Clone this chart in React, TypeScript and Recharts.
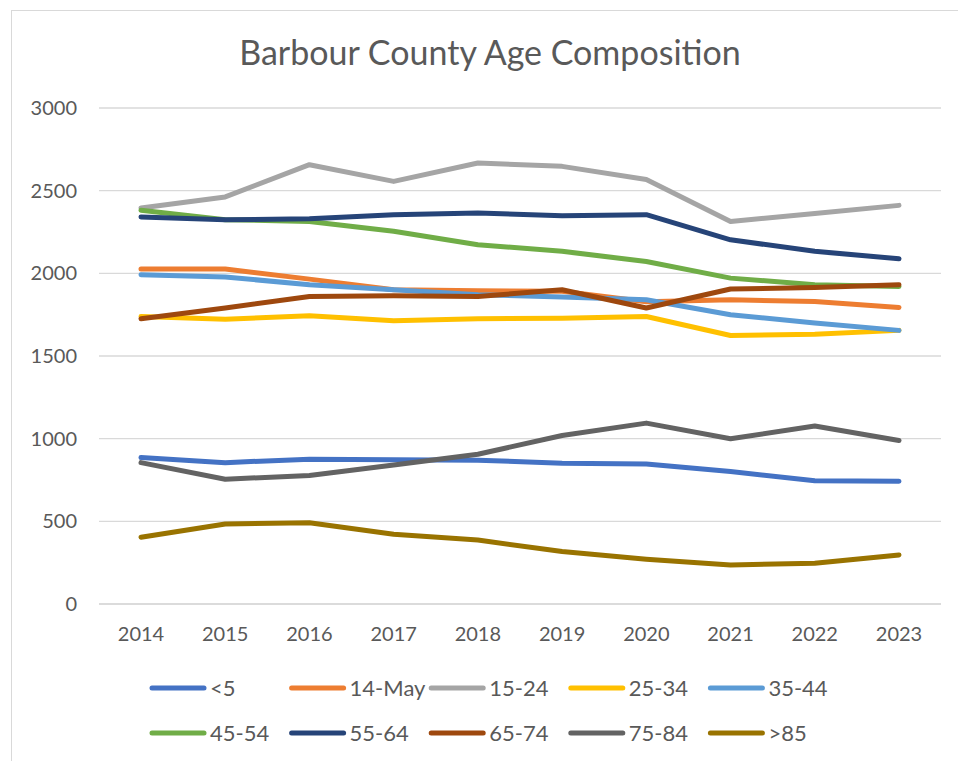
import React from 'react';
import { LineChart, Line, XAxis, YAxis, CartesianGrid } from 'recharts';

const years = ['2014', '2015', '2016', '2017', '2018', '2019', '2020', '2021', '2022', '2023'];
const yTicks = [0, 500, 1000, 1500, 2000, 2500, 3000];

const under5 = [886, 855, 876, 873, 870, 851, 847, 801, 746, 743];
const may14 = [2026, 2026, 1965, 1901, 1895, 1891, 1828, 1840, 1830, 1794];
const a15_24 = [2395, 2462, 2657, 2556, 2667, 2647, 2567, 2314, 2362, 2411];
const a25_34 = [1739, 1723, 1743, 1713, 1725, 1729, 1739, 1624, 1632, 1655];
const a35_44 = [1992, 1978, 1931, 1901, 1871, 1857, 1840, 1750, 1699, 1655];
const a45_54 = [2381, 2324, 2314, 2254, 2173, 2133, 2072, 1971, 1931, 1921];
const a55_64 = [2341, 2324, 2330, 2355, 2365, 2349, 2355, 2203, 2133, 2088];
const a65_74 = [1725, 1790, 1860, 1864, 1860, 1901, 1790, 1905, 1915, 1931];
const a75_84 = [855, 755, 777, 841, 906, 1019, 1094, 999, 1077, 989];
const over85 = [404, 484, 492, 422, 387, 317, 271, 236, 246, 297];

const seriesNames = ['<5', '14-May', '15-24', '25-34', '35-44', '45-54', '55-64', '65-74', '75-84', '>85'];
const seriesValues = [under5, may14, a15_24, a25_34, a35_44, a45_54, a55_64, a65_74, a75_84, over85];
const seriesColors = ['#4472C4', '#ED7D31', '#A5A5A5', '#FFC000', '#5B9BD5', '#70AD47', '#264478', '#9E480E', '#636363', '#997300'];

const data = years.map((y, i) => {
  const row: Record<string, string | number> = { year: y };
  seriesNames.forEach((n, k) => {
    row['s' + k] = seriesValues[k][i];
  });
  return row;
});

const FONT = 'Lato, "Noto Sans", sans-serif';
const TEXT = '#595959';

export default function App() {
  return (
    <div style={{ position: 'fixed', left: 0, top: 0, width: 958, height: 761, overflow: 'hidden', background: '#fff', fontFamily: FONT }}>
      <div style={{ position: 'absolute', left: 11, top: 10, width: 1000, height: 800, border: '1px solid #d9d9d9', boxSizing: 'border-box' }} />
      <div style={{ position: 'absolute', left: 0, top: 0 }}>
        <LineChart width={958} height={761} data={data} margin={{ top: 108, right: 17, bottom: 127, left: 39 }}>
          <CartesianGrid vertical={false} stroke="#d9d9d9" strokeWidth={1.3} />
          <XAxis
            dataKey="year"
            padding={{ left: 42, right: 42 }}
            axisLine={{ stroke: '#d9d9d9', strokeWidth: 1.3 }}
            tickLine={false}
            tickSize={0}
            tickMargin={23}
            height={30}
            tick={{ fill: TEXT, fontSize: 20, fontFamily: FONT }}
          />
          <YAxis
            domain={[0, 3000]}
            ticks={yTicks}
            axisLine={false}
            tickLine={false}
            tickSize={0}
            tickMargin={22}
            width={60}
            tick={{ fill: TEXT, fontSize: 20, fontFamily: FONT }}
          />
          {seriesNames.map((n, k) => (
            <Line
              key={n}
              type="linear"
              dataKey={'s' + k}
              name={n}
              stroke={seriesColors[k]}
              strokeWidth={5}
              strokeLinecap="round"
              strokeLinejoin="round"
              dot={false}
              activeDot={false}
              isAnimationActive={false}
            />
          ))}
        </LineChart>
      </div>
      <svg width={958} height={761} style={{ position: 'absolute', left: 0, top: 0, pointerEvents: 'none' }}>
        <text x={490} y={65} textAnchor="middle" fontSize={34} fill={TEXT} fontFamily={FONT}>
          Barbour County Age Composition
        </text>
        {seriesNames.map((n, k) => {
          const col = k % 5;
          const row = Math.floor(k / 5);
          const x = 150 + col * 139.6;
          const y = 688 + row * 45;
          return (
            <g key={n}>
              <line x1={x + 2} y1={y} x2={x + 54} y2={y} stroke={seriesColors[k]} strokeWidth={5} strokeLinecap="round" />
              <text x={x + 60} y={y} dy="0.36em" fontSize={22} fill={TEXT} fontFamily={FONT}>
                {n}
              </text>
            </g>
          );
        })}
      </svg>
    </div>
  );
}
